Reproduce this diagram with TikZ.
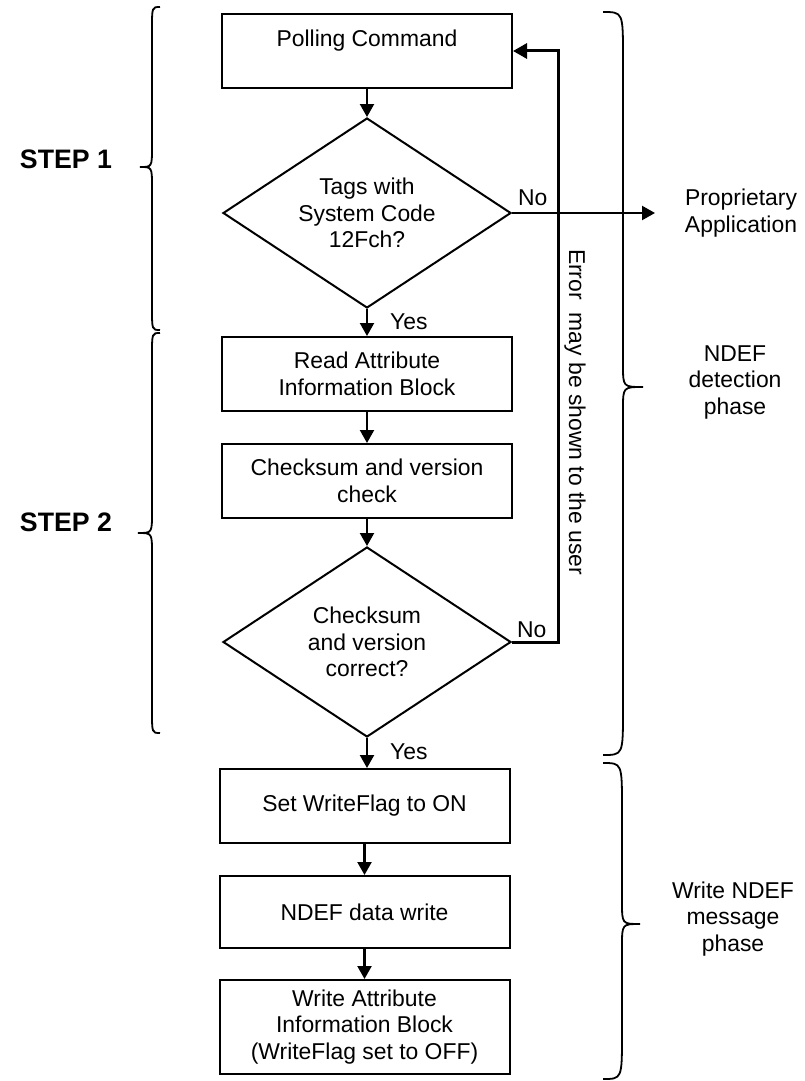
\documentclass[tikz,border=0pt]{standalone}
\usepackage{fontspec}
\setmainfont{Liberation Sans}
\usetikzlibrary{shapes.geometric,arrows.meta}

% curly brace: end x, line x, tip x, top y, tip y, bottom y, curl height, tip height
\newcommand{\vbrace}[8]{%
  \draw[bracestyle] (#1,#4) .. controls (#2,#4) .. (#2,#4+#7)
    -- (#2,#5-#8) .. controls (#2,#5) .. (#3,#5)
    .. controls (#2,#5) .. (#2,#5+#8)
    -- (#2,#6-#7) .. controls (#2,#6) .. (#1,#6);}

\tikzset{
  txt/.style={font=\fontsize{22.9}{26.5}\selectfont, inner sep=0pt, align=center},
  stepbox/.style={txt, draw, line width=2pt, minimum width=290pt, minimum height=74pt},
  decision/.style={txt, draw, diamond, line width=2pt, minimum width=288pt,
    minimum height=190pt, aspect=1.52},
  flow/.style={line width=2.2pt, -{Triangle[width=14pt,length=13pt]}},
  feedback/.style={line width=3pt, -{Triangle[width=15pt,length=14pt]}},
  bracestyle/.style={line width=1.8pt},
  steplabel/.style={font=\fontsize{26.7}{30}\selectfont\bfseries, inner sep=0pt},
  lbl/.style={txt, anchor=west},
}

\begin{document}
\begin{tikzpicture}[x=1pt, y=-1pt]
  \useasboundingbox[fill=white] (0,0) rectangle (805,1081);

  % flow chart
  \node[stepbox] (poll) at (367,51) {Polling Command\\ ~};
  \node[decision] (d1) at (367,213) {Tags with\\System Code\\12Fch?};
  \node[stepbox] (read) at (367,374) {Read Attribute\\Information Block};
  \node[stepbox] (check) at (367,481) {Checksum and version\\check};
  \node[decision] (d2) at (367,642) {Checksum\\and version\\correct?};
  \node[stepbox] (setflag) at (364.5,806) {Set WriteFlag to ON};
  \node[stepbox, minimum height=72pt] (write) at (364.5,912) {NDEF data write};
  \node[stepbox, minimum height=94pt] (wattr) at (364.5,1027) {Write Attribute\\Information Block\\(WriteFlag set to OFF)};

  \coordinate (prop) at (655,213);
  \coordinate (fbx) at (558,0);

  \draw[flow] (poll.south) -- (d1.north);
  \draw[flow] (d1.south) -- (read.north);
  \draw[flow] (read.south) -- (check.north);
  \draw[flow] (check.south) -- (d2.north);
  \draw[flow] (d2.south) -- (d2.south |- setflag.north);
  \draw[flow] (setflag.south) -- (write.north);
  \draw[flow] (write.south) -- (wattr.north);
  \draw[flow] (d1.east) -- (prop);
  \draw[feedback] (d2.east) -- (d2.east -| fbx) -- (fbx |- poll.east) -- (poll.east);

  % branch labels
  \node[lbl] (yes1) at (390,322) {Yes};
  \node[lbl] (yes2) at (390,752) {Yes};
  \node[lbl] (no1) at (518,198) {No};
  \node[lbl] (no2) at (517,630) {No};
  \node[txt] (propapp) at (741,213) {Proprietary\\Application};
  \node[txt, rotate=-90] (err) at (575,412) {Error\ \ may be shown to the user};

  % grouping braces
  \vbrace{160}{152}{140}{7}{167}{330}{22}{20}
  \vbrace{160}{152}{138}{333}{533}{733}{22}{20}
  \vbrace{603}{623}{643}{12}{387}{755}{45}{22}
  \vbrace{603}{622}{640}{763}{924}{1079}{45}{22}

  \node[steplabel] (step1) at (66,159) {STEP 1};
  \node[steplabel] (step2) at (66,522) {STEP 2};
  \node[txt] (detect) at (735,382) {NDEF\\detection\\phase};
  \node[txt] (wphase) at (733,919) {Write NDEF\\message\\phase};
\end{tikzpicture}
\end{document}
